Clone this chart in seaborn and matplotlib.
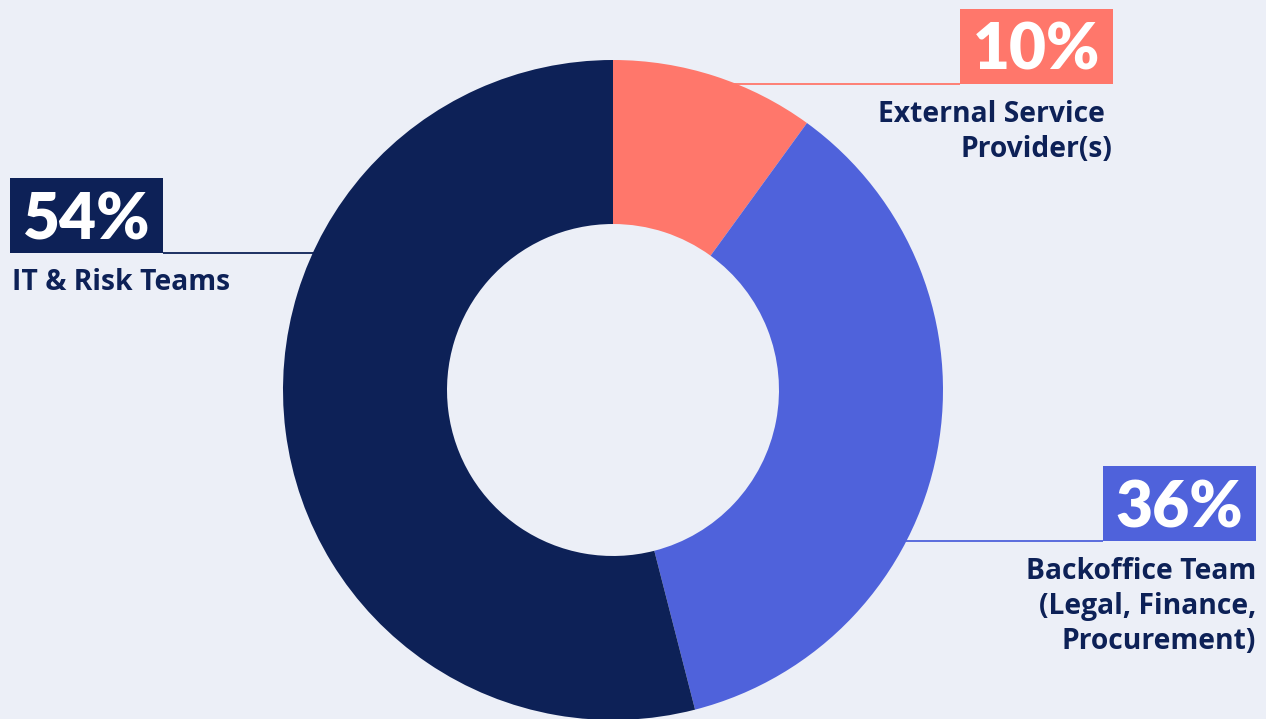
import numpy as np
import matplotlib
matplotlib.use("Agg")
import matplotlib.pyplot as plt
from matplotlib.patches import Rectangle
import seaborn as sns

# Share of responsibility by group
categories = ["External Service \nProvider(s)",
              "Backoffice Team\n(Legal, Finance,\nProcurement)",
              "IT & Risk Teams"]
shares = [10, 36, 54]
colors = ["#FF776B", "#4F62DB", "#0D2157"]

BG = "#ECEFF7"
TEXT = "#0D2157"

sns.set_theme(style="white")
plt.rcParams["font.family"] = ["Open Sans", "DejaVu Sans"]

W, H = 1266, 719
fig = plt.figure(figsize=(W / 100, H / 100), dpi=100, facecolor=BG)
ax = fig.add_axes([0, 0, 1, 1])
ax.set_facecolor(BG)

cx, cy, R = 613, H - 390, 330
ax.pie(shares, colors=colors, startangle=90, counterclock=False,
       center=(cx, cy), radius=R,
       wedgeprops=dict(width=R * 0.497, linewidth=0))
ax.set_xlim(0, W)
ax.set_ylim(0, H)
ax.set_aspect("equal")
ax.axis("off")

# Callout layout: box left, box bottom and first text baseline (px from top)
callouts = [
    dict(box_x=960, box_y=84, side="right", ha="right", text_x=1112, text_y=122),
    dict(box_x=1103, box_y=541, side="right", ha="right", text_x=1256, text_y=579),
    dict(box_x=10, box_y=253, side="left", ha="left", text_x=12, text_y=290),
]
box_w, box_h = 153, 75
line_step = 35

for cat, val, col, c in zip(categories, shares, colors, callouts):
    yb = H - c["box_y"]
    ax.add_patch(Rectangle((c["box_x"], yb), box_w, box_h,
                           facecolor=col, edgecolor="none", zorder=3))
    ax.text(c["box_x"] + box_w / 2, yb + 14, f"{val}%",
            ha="center", va="baseline", color="white", fontsize=46,
            fontweight="heavy", family=["Lato", "DejaVu Sans"], zorder=4)
    dx = np.sqrt(R ** 2 - (yb - cy) ** 2)
    if c["side"] == "right":
        x0, x1 = cx + dx - 8, c["box_x"]
    else:
        x0, x1 = c["box_x"] + box_w, cx - dx + 8
    ax.plot([x0, x1], [yb, yb], color=col, lw=1.3, zorder=1,
            solid_capstyle="butt")
    for i, line in enumerate(cat.split("\n")):
        ax.text(c["text_x"], H - c["text_y"] - i * line_step, line,
                ha=c["ha"], va="baseline", color=TEXT, fontsize=20.3,
                fontweight="bold")

fig.savefig("out.png", dpi=100, facecolor=BG)
